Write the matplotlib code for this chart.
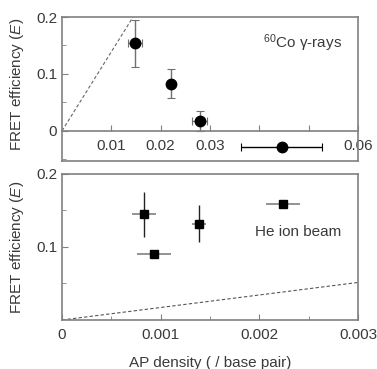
import matplotlib
matplotlib.use("Agg")
import matplotlib.pyplot as plt
import numpy as np

plt.rcParams['font.family'] = ['Liberation Sans', 'DejaVu Sans']
plt.rcParams['mathtext.fontset'] = 'custom'
plt.rcParams['mathtext.rm'] = 'Liberation Sans'
plt.rcParams['mathtext.it'] = 'Liberation Sans:italic'

TEXT = '#3a3a3a'
SPINE = '#808080'
FS = 11

# 60Co gamma-rays
co_x = [0.0148, 0.0221, 0.0279, 0.0445]
co_y = [0.154, 0.083, 0.017, -0.028]
co_xerr = [0.0014, 0.0, 0.0015, 0.0083]
co_yerr = [0.041, 0.025, 0.017, 0.0]
co_line_x = [0.0, 0.0144]
co_line_y = [0.0, 0.2]

# He ion beam
he_x = [0.00083, 0.00093, 0.00139, 0.00224]
he_y = [0.145, 0.091, 0.132, 0.159]
he_xerr = [0.00012, 0.00017, 0.00007, 0.00017]
he_yerr = [0.031, 0.005, 0.025, 0.006]
he_line_x = [0.0, 0.003]
he_line_y = [0.0, 0.0514]

fig = plt.figure(figsize=(3.77, 3.69), dpi=100)
ax1 = fig.add_axes([0.1645, 0.5637, 0.785, 0.3902])
ax2 = fig.add_axes([0.1645, 0.1328, 0.785, 0.3957])

ylab = 'FRET efficiency ($\\it{E}$)'

# ---- top panel ----
ax1.plot(co_line_x, co_line_y, ls=(0, (3, 2)), color='#666666', lw=0.8)
for i in range(len(co_x)):
    ec = 'black' if i == 3 else '#707070'
    ax1.errorbar(co_x[i], co_y[i], xerr=co_xerr[i] or None, yerr=co_yerr[i] or None,
                 fmt='o', color='black', ms=7.5, ecolor=ec, elinewidth=1,
                 capsize=3, capthick=0.8)
ax1.set_xlim(0, 0.06)
ax1.set_ylim(-0.053, 0.2)
ax1.spines['bottom'].set_position(('data', 0))
ax1.plot([0, 1], [0, 0], transform=ax1.transAxes, color=SPINE, lw=1.2, clip_on=False)
ax1.set_xticks([0.01, 0.02, 0.03, 0.04, 0.05, 0.06])
ax1.set_xticklabels(['0.01', '0.02', '0.03', '', '', '0.06'])
ax1.set_yticks([0, 0.1, 0.2])
ax1.set_yticklabels(['0', '0.1', '0.2'])
ax1.set_yticks([-0.05, 0.05, 0.15], minor=True)
ax1.text(0.0407, 0.154, '$^{60}$Co γ-rays', fontsize=FS, color=TEXT, va='center')
ax1.set_ylabel(ylab, fontsize=FS, color=TEXT)
ax1.yaxis.set_label_coords(-0.122, 0.53)

# ---- bottom panel ----
ax2.plot(he_line_x, he_line_y, ls=(0, (3, 2)), color='#555555', lw=0.8)
ax2.errorbar(he_x, he_y, xerr=he_xerr, fmt='none', ecolor='#808080', elinewidth=1.2)
ax2.errorbar(he_x, he_y, yerr=he_yerr, fmt='s', color='black', ms=5.8,
             ecolor='#222222', elinewidth=1)
ax2.set_xlim(0, 0.003)
ax2.set_ylim(0, 0.2)
ax2.set_xticks([0, 0.001, 0.002, 0.003])
ax2.set_xticklabels(['0', '0.001', '0.002', '0.003'])
ax2.set_xticks([0.0005, 0.0015, 0.0025], minor=True)
ax2.set_yticks([0.1, 0.2])
ax2.set_yticklabels(['0.1', '0.2'])
ax2.set_yticks([0.05, 0.15], minor=True)
ax2.text(0.00196, 0.121, 'He ion beam', fontsize=FS, color=TEXT, va='center')
ax2.set_ylabel(ylab, fontsize=FS, color=TEXT)
ax2.yaxis.set_label_coords(-0.122, 0.5)
ax2.set_xlabel('AP density ( / base pair)', fontsize=FS, color=TEXT, labelpad=10)

for ax in (ax1, ax2):
    for s in ax.spines.values():
        s.set_color(SPINE)
        s.set_linewidth(1.2)
    ax.tick_params(which='both', direction='in', color=SPINE, labelcolor=TEXT,
                   labelsize=FS)
    ax.tick_params(which='major', length=4)
    ax.tick_params(which='minor', length=3)
    ax.tick_params(axis='x', pad=6)

fig.savefig('out.png', dpi=100)
